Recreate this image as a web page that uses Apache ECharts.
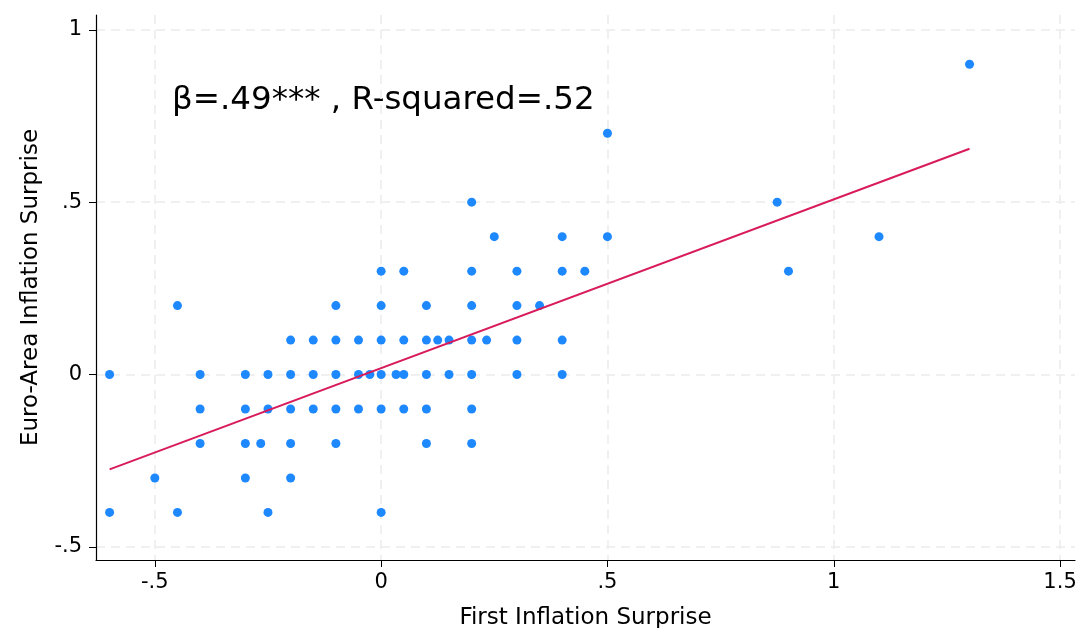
<!DOCTYPE html>
<html>
<head>
    <meta charset="utf-8">
    <title>ECharts</title>
    <script src="https://cdn.jsdelivr.net/npm/echarts@6/dist/echarts.min.js"></script>
    <style>
        body { margin: 0; background: #fff; }
    </style>
</head>
<body>
    <div id="main" style="width: 1080px;height:628px;"></div>
    <script type="text/javascript">
        // points, one row per y level
        var rowY = [0.9, 0.7, 0.5, 0.4, 0.3, 0.2, 0.1, 0, -0.1, -0.2, -0.3, -0.4];
        var rowX = [
            [1.3],
            [0.5],
            [0.2, 0.875],
            [0.25, 0.4, 0.5, 1.1],
            [0, 0.05, 0.2, 0.3, 0.4, 0.45, 0.9],
            [-0.45, -0.1, 0, 0.1, 0.2, 0.3, 0.35],
            [-0.2, -0.15, -0.1, -0.05, 0, 0.05, 0.1, 0.125, 0.15, 0.2, 0.233, 0.3, 0.4],
            [-0.6, -0.4, -0.3, -0.25, -0.2, -0.15, -0.1, -0.05, -0.025, 0, 0.033, 0.05, 0.1, 0.15, 0.2, 0.3, 0.4],
            [-0.4, -0.3, -0.25, -0.2, -0.15, -0.1, -0.05, 0, 0.05, 0.1, 0.2],
            [-0.4, -0.3, -0.266, -0.2, -0.1, 0.1, 0.2],
            [-0.5, -0.3, -0.2],
            [-0.6, -0.45, -0.25, 0]
        ];
        // fitted line end points
        var fitX = [-0.6, 1.3];
        var fitY = [-0.275, 0.655];

        var xTicks = [-0.5, 0, 0.5, 1, 1.5];
        var yTicks = [-0.5, 0, 0.5, 1];

        var points = [];
        rowY.forEach(function (y, i) {
            rowX[i].forEach(function (x) { points.push([x, y]); });
        });
        var fitLine = fitX.map(function (x, i) { return [x, fitY[i]]; });

        var font = 'DejaVu Sans';
        var stataNum = function (v) {
            return String(v).replace('0.', '.');
        };
        var grid = {
            show: true,
            lineStyle: { color: '#ebebeb', width: 1.5, type: [9, 6] }
        };

        var myChart = echarts.init(document.getElementById('main'));

        myChart.setOption({
            backgroundColor: '#fff',
            animation: false,
            grid: { left: 96, right: 5, top: 15, bottom: 68, outerBoundsMode: 'none', containLabel: false },
            xAxis: {
                type: 'value',
                min: -0.63,
                max: 1.533,
                name: 'First Inflation Surprise',
                nameLocation: 'middle',
                nameGap: 47,
                nameTextStyle: { fontFamily: font, fontSize: 23, color: '#000' },
                axisLine: { onZero: false, lineStyle: { color: '#000', width: 1.2 } },
                axisTick: { show: true, length: 7, customValues: xTicks, lineStyle: { color: '#000' } },
                axisLabel: {
                    customValues: xTicks, formatter: stataNum, margin: 12,
                    fontFamily: font, fontSize: 21, color: '#000'
                },
                splitLine: grid
            },
            yAxis: {
                type: 'value',
                min: -0.538,
                max: 1.043,
                name: 'Euro-Area Inflation Surprise',
                nameLocation: 'middle',
                nameGap: 53,
                nameTextStyle: { fontFamily: font, fontSize: 23, color: '#000' },
                axisLine: { show: true, onZero: false, lineStyle: { color: '#000', width: 1.2 } },
                axisTick: { show: true, length: 7, customValues: yTicks, lineStyle: { color: '#000' } },
                axisLabel: {
                    customValues: yTicks, formatter: stataNum, margin: 14,
                    fontFamily: font, fontSize: 21, color: '#000'
                },
                splitLine: grid
            },
            graphic: [{
                type: 'text',
                left: 172,
                top: 84,
                style: {
                    text: 'β=.49*** , R-squared=.52',
                    font: '32.5px ' + font,
                    fill: '#000'
                }
            }],
            series: [{
                type: 'scatter',
                data: points,
                symbolSize: 9,
                itemStyle: { color: '#1e88ff', opacity: 1 },
                z: 2
            }, {
                type: 'line',
                data: fitLine,
                symbol: 'none',
                lineStyle: { color: '#d81b5a', width: 2 },
                z: 3
            }]
        });
    </script>
</body>
</html>
